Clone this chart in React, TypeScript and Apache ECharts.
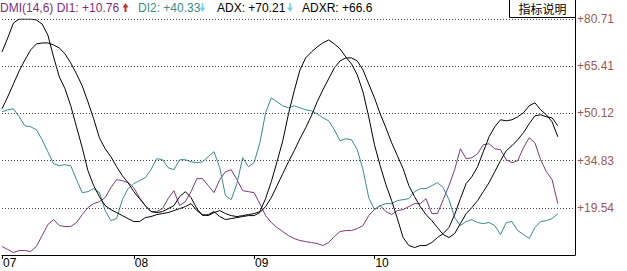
import React, { useEffect, useRef } from 'react';
import * as echarts from 'echarts';

const di1 = [6.99, 6.02, 5.05, 5.69, 5.69, 5.37, 6.99, 10.54, 14.1, 15.72, 13.78, 13.45, 13.45, 14.75, 17.33, 19.6, 20.89, 21.54, 22.83, 26.06,
  28.65, 28.33, 27.68, 26.06, 22.83, 20.24, 18.3, 18.3, 19.27, 22.51, 25.09, 20.24, 21.54, 24.77, 28.97, 28.97, 26.71, 24.45, 28.65, 31.24,
  31.88, 28.65, 25.09, 24.77, 24.45, 20.89, 17.01, 14.75, 13.13, 11.84, 10.54, 9.57, 8.93, 8.6, 8.28, 7.96, 7.31, 8.28, 10.22, 11.84,
  12.16, 12.16, 12.81, 13.78, 17.01, 18.95, 20.24, 18.3, 17.33, 18.63, 18.95, 19.92, 20.89, 20.89, 22.51, 17.66, 17.66, 22.18, 26.71, 31.88,
  38.67, 35.44, 35.76, 37.06, 39.97, 40.29, 38.67, 38.35, 35.12, 34.15, 34.79, 39.0, 42.23, 40.61, 35.12, 31.24, 28.65, 20.89];

const di2 = [50.64, 51.29, 51.61, 49.02, 46.11, 45.79, 44.82, 41.58, 37.71, 33.82, 33.18, 33.5, 33.18, 28.65, 24.45, 24.77, 25.74, 24.45, 18.63, 15.39,
  16.04, 22.18, 25.74, 27.36, 28.33, 29.3, 31.88, 35.44, 35.12, 32.53, 31.88, 35.12, 35.12, 34.47, 34.15, 34.47, 36.09, 37.71, 32.53, 23.48,
  22.18, 27.36, 35.76, 32.85, 34.15, 40.61, 50.32, 55.17, 53.87, 52.58, 51.93, 52.58, 51.93, 51.29, 50.96, 49.99, 48.7, 47.73, 44.82, 41.26,
  41.91, 41.58, 38.35, 31.88, 22.83, 18.95, 20.24, 20.89, 20.89, 21.86, 22.18, 22.51, 24.77, 25.74, 25.74, 26.71, 27.68, 26.06, 22.18, 16.36,
  13.78, 15.07, 15.72, 14.75, 14.42, 14.75, 13.78, 10.87, 14.75, 15.07, 12.16, 10.87, 9.57, 13.13, 15.07, 15.39, 16.04, 17.66];

const adx = [70.04, 74.57, 79.42, 80.71, 80.71, 80.71, 80.39, 79.09, 75.54, 68.42, 61.96, 58.08, 52.58, 45.79, 39.0, 31.56, 26.71, 23.15, 20.24, 18.95,
  17.98, 17.01, 16.04, 15.07, 15.07, 16.36, 16.69, 17.33, 17.66, 17.98, 18.63, 19.27, 19.92, 20.89, 18.63, 17.33, 17.01, 17.98, 18.63, 17.66,
  17.01, 16.69, 17.01, 17.33, 17.66, 18.3, 22.51, 28.0, 34.47, 41.26, 49.99, 57.43, 64.22, 68.1, 70.04, 71.66, 72.95, 73.92, 72.63, 71.01,
  68.42, 66.16, 62.6, 57.11, 49.02, 39.97, 33.18, 27.03, 21.86, 16.04, 9.9, 7.31, 6.66, 7.31, 7.31, 8.28, 9.9, 11.19, 13.13, 17.33,
  22.51, 27.36, 29.62, 32.85, 37.71, 42.55, 45.79, 48.05, 47.73, 48.05, 49.02, 50.32, 52.58, 53.55, 51.29, 49.67, 47.4, 42.55];

const adxr = [51.61, 55.49, 59.69, 63.9, 67.45, 70.69, 72.63, 72.95, 72.95, 72.3, 71.33, 69.39, 66.48, 62.93, 59.05, 53.87, 48.37, 42.23, 38.67, 36.09,
  32.85, 29.94, 27.68, 24.77, 22.51, 20.24, 18.3, 17.98, 18.3, 19.27, 20.24, 23.15, 24.77, 22.83, 19.27, 17.01, 17.33, 18.3, 16.69, 15.72,
  16.04, 16.36, 16.69, 17.01, 17.01, 17.98, 19.92, 22.83, 26.71, 30.59, 34.47, 38.03, 41.91, 45.46, 49.35, 53.87, 57.75, 61.31, 64.87, 67.13,
  68.1, 68.1, 67.13, 64.22, 59.69, 55.17, 49.99, 45.46, 40.61, 36.41, 32.21, 26.71, 23.15, 19.92, 17.33, 15.39, 13.13, 10.87, 9.9, 11.19,
  14.42, 17.66, 19.6, 21.86, 24.77, 27.68, 31.24, 34.79, 38.03, 39.64, 41.58, 43.85, 46.76, 49.35, 49.67, 49.02, 48.7, 46.11];

const yTicks = [19.54, 34.83, 50.12, 65.41, 80.71];
const yMin = 4.24;
const yMax = 80.71;
const yearLabels = ['07', '08', '09', '10'];
const yearIndex = [0, 23, 44, 65];
const categoryCount = 101;

const legendTexts = [
  { text: 'DMI(14,6) DI1: +10.76', color: '#7d2f7d' },
  { text: 'DI2: +40.33', color: '#3a8c8c' },
  { text: 'ADX: +70.21', color: '#000000' },
  { text: 'ADXR: +66.6', color: '#000000' },
];
const legendX = [0, 138, 217, 302];
// arrows: direction and colour after each legend item
const arrowDirs = ['up', 'down', 'down'];
const arrowColors = ['#c8342a', '#74d4e4', '#74d4e4'];
const arrowX = [125.5, 202.5, 290];

const categories: string[] = Array.from({ length: categoryCount }, (_, i) => {
  const k = yearIndex.indexOf(i);
  return k >= 0 ? yearLabels[k] : '';
});

const FONT = '"Liberation Sans", Arial, sans-serif';

function arrowPoints(cx: number, dir: string): number[][] {
  const top = 3, bottom = 12;
  if (dir === 'up') {
    return [[cx, top], [cx + 3, top + 4.5], [cx + 1, top + 4.5], [cx + 1, bottom], [cx - 1, bottom], [cx - 1, top + 4.5], [cx - 3, top + 4.5]];
  }
  return [[cx, bottom], [cx + 3, bottom - 4.5], [cx + 0.8, bottom - 4.5], [cx + 0.8, top], [cx - 0.8, top], [cx - 0.8, bottom - 4.5], [cx - 3, bottom - 4.5]];
}

export default function App() {
  const ref = useRef<HTMLDivElement>(null);
  useEffect(() => {
    if (!ref.current) return;
    const chart = echarts.init(ref.current, null, { renderer: 'svg' });
    const isYear = (idx: number) => categories[idx] !== '';
    const mk = (name: string, data: number[], color: string, extra: any = {}) => ({
      name,
      type: 'line',
      data,
      showSymbol: false,
      symbol: 'none',
      lineStyle: { color, width: 1 },
      itemStyle: { color },
      silent: true,
      ...extra,
    });
    chart.setOption({
      animation: false,
      backgroundColor: '#ffffff',
      textStyle: { fontFamily: FONT },
      grid: { left: 1, right: 52, top: 19, bottom: 16, containLabel: false },
      xAxis: {
        type: 'category',
        data: categories,
        boundaryGap: false,
        axisLine: { show: true, lineStyle: { color: '#000', width: 1 } },
        axisTick: { show: true, length: 4, interval: (i: number) => isYear(i), lineStyle: { color: '#000' } },
        axisLabel: {
          show: true,
          interval: (i: number) => isYear(i),
          align: 'left',
          margin: 2,
          padding: [0, 0, 0, 1],
          color: '#000',
          fontSize: 12,
          fontFamily: FONT,
        },
        splitLine: { show: false },
      },
      yAxis: {
        type: 'value',
        position: 'right',
        min: yMin,
        max: yMax,
        axisLine: { show: true, lineStyle: { color: '#000', width: 1 } },
        axisTick: { show: false },
        splitLine: { show: false },
        axisLabel: {
          show: true,
          customValues: yTicks,
          formatter: (v: number) => '+' + v.toFixed(2),
          color: '#9a5a55',
          fontSize: 12,
          margin: 2,
          fontFamily: FONT,
        },
      },
      series: [
        mk('DI1', di1, '#7a3a7a', {
          markLine: {
            silent: true,
            symbol: ['none', 'none'],
            label: { show: false },
            lineStyle: { color: '#444', width: 1, type: [1, 2] },
            data: yTicks.map((v) => ({ yAxis: v })),
          },
        }),
        mk('DI2', di2, '#3a8a8a'),
        mk('ADX', adx, '#000000'),
        mk('ADXR', adxr, '#000000'),
      ],
      graphic: [
        ...legendTexts.map((p, i) => ({
          type: 'text',
          x: legendX[i],
          y: 8,
          silent: true,
          style: {
            text: p.text,
            fill: p.color,
            fontSize: 12,
            fontFamily: FONT,
            verticalAlign: 'middle',
            align: 'left',
          },
        })),
        ...arrowDirs.map((d, i) => ({
          type: 'polygon',
          silent: true,
          shape: { points: arrowPoints(arrowX[i], d) },
          style: { fill: arrowColors[i], stroke: 'none' },
        })),
        {
          type: 'rect',
          shape: { x: 509.5, y: -0.5, width: 66, height: 18 },
          style: { fill: '#ffffff', stroke: '#000', lineWidth: 1 },
          z: 10,
        },
        {
          type: 'text',
          x: 542.5,
          y: 8.5,
          z: 11,
          style: {
            text: '指标说明',
            fill: '#000',
            fontSize: 12,
            fontFamily: '"Noto Sans CJK SC", sans-serif',
            align: 'center',
            verticalAlign: 'middle',
          },
        },
        {
          type: 'line',
          shape: { x1: 575.5, y1: 17, x2: 575.5, y2: 20 },
          style: { stroke: '#000', lineWidth: 1 },
        },
      ],
    });
    return () => chart.dispose();
  }, []);
  return (
    <div
      ref={ref}
      style={{ position: 'absolute', left: 0, top: 0, width: 627, height: 271, background: '#fff' }}
    />
  );
}
